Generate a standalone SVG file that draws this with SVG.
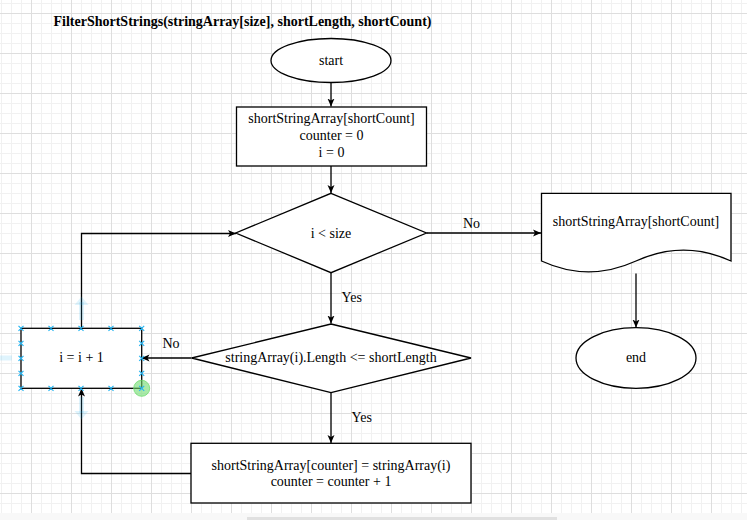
<svg xmlns="http://www.w3.org/2000/svg" width="747" height="520" viewBox="0 0 747 520">
<style>
.shape{fill:#ffffff;stroke:#000000;stroke-width:1.3}
.t{font-family:"Liberation Serif","Times New Roman",serif;font-size:14px;fill:#000000}
.c{text-anchor:middle}
.title{font-weight:bold}
.edge{fill:none;stroke:#000000;stroke-width:1.3}
.sel{stroke:#29b6f2;stroke-width:1.2;fill:none}
.hint{fill:#29b6f2;opacity:0.15}
</style>
<defs>
<pattern id="grid" patternUnits="userSpaceOnUse" x="31" y="13" width="40" height="40">
<path d="M10.5,0V40M20.5,0V40M30.5,0V40M0,10.5H40M0,20.5H40M0,30.5H40" stroke="#f1f1f1" stroke-width="1" fill="none"/>
<path d="M0.5,0V40M0,0.5H40" stroke="#dedede" stroke-width="1" fill="none"/>
</pattern>
<marker id="arr" viewBox="0 0 8 8" refX="8" refY="4" markerWidth="8" markerHeight="8" markerUnits="userSpaceOnUse" orient="auto">
<path d="M0,0.5 L8,4 L0,7.5 L2,4 Z" fill="#000000"/>
</marker>
</defs>
<rect x="0" y="0" width="747" height="520" fill="#ffffff"/>
<rect x="0" y="0" width="747" height="513" fill="url(#grid)"/>
<rect x="0" y="513" width="747" height="7" fill="#f8f8f8"/>
<rect x="247" y="517" width="310" height="3" fill="#e0e0e0"/>

<text class="t title" x="53.5" y="26">FilterShortStrings(stringArray[size], shortLength, shortCount)</text>

<g id="connectors">
<path class="edge" d="M331,82.5V106.5" marker-end="url(#arr)"/>
<path class="edge" d="M331,166V193" marker-end="url(#arr)"/>
<path class="edge" d="M426.5,233H541" marker-end="url(#arr)"/>
<path class="edge" d="M636,273.5V327.5" marker-end="url(#arr)"/>
<path class="edge" d="M331,273V323.5" marker-end="url(#arr)"/>
<path class="edge" d="M191.5,358H141.5" marker-end="url(#arr)"/>
<path class="edge" d="M331,393V443" marker-end="url(#arr)"/>
<path class="edge" d="M191,473.5H81.5V388.5" marker-end="url(#arr)"/>
<path class="edge" d="M81.5,328V233.5H236" marker-end="url(#arr)"/>
<text class="t" x="463" y="228">No</text>
<text class="t" x="341.5" y="302">Yes</text>
<text class="t" x="162.5" y="347.5">No</text>
<text class="t" x="351.5" y="422">Yes</text>
</g>

<g id="start">
<ellipse class="shape" cx="331" cy="60.5" rx="60" ry="22"/>
<text class="t c" x="331" y="65">start</text>
</g>

<g id="init">
<rect class="shape" x="236.5" y="107" width="190" height="59"/>
<text class="t c" x="331.5" y="123">shortStringArray[shortCount]</text>
<text class="t c" x="331.5" y="140">counter = 0</text>
<text class="t c" x="331.5" y="156.5">i = 0</text>
</g>

<g id="cond1">
<path class="shape" d="M331,193.3 L426.5,233 L331,272.7 L235.8,233 Z"/>
<text class="t c" x="331" y="237.5">i &lt; size</text>
</g>

<g id="output">
<path class="shape" d="M541.5,193.3 H731 V261 Q683.5,239.4 636,261 Q588.5,282.6 541.5,261 Z"/>
<text class="t c" x="636" y="225.5">shortStringArray[shortCount]</text>
</g>

<g id="end">
<ellipse class="shape" cx="636" cy="358" rx="60" ry="30.3"/>
<text class="t c" x="636" y="362">end</text>
</g>

<g id="cond2">
<path class="shape" d="M331,324 L471,358 L331,392.7 L191.7,358 Z"/>
<text class="t c" x="331" y="362">stringArray(i).Length &lt;= shortLength</text>
</g>

<g id="assign">
<rect class="shape" x="191" y="443.3" width="280" height="59.7"/>
<text class="t c" x="331" y="469.5">shortStringArray[counter] = stringArray(i)</text>
<text class="t c" x="331" y="486">counter = counter + 1</text>
</g>

<g id="increment">
<rect class="hint" x="79" y="302" width="5" height="18"/>
<path class="hint" d="M74.5,305 L81.5,296.5 L88.5,305 Z"/>
<rect class="hint" x="79" y="397" width="5" height="16"/>
<path class="hint" d="M74.5,411 L81.5,419.5 L88.5,411 Z"/>
<rect class="hint" x="0" y="355.5" width="12" height="5"/>
<rect class="shape" x="21" y="328.3" width="120.7" height="60"/>
<text class="t c" x="81.5" y="362">i = i + 1</text>
<g class="sel">
<path d="M18.5,325.8l5,5m0,-5l-5,5M48.5,325.8l5,5m0,-5l-5,5M78.5,325.8l5,5m0,-5l-5,5M108.5,325.8l5,5m0,-5l-5,5M139.2,325.8l5,5m0,-5l-5,5"/>
<path d="M18.5,385.8l5,5m0,-5l-5,5M48.5,385.8l5,5m0,-5l-5,5M78.5,385.8l5,5m0,-5l-5,5M108.5,385.8l5,5m0,-5l-5,5"/>
<path d="M18.5,340.8l5,5m0,-5l-5,5M18.5,355.8l5,5m0,-5l-5,5M18.5,370.8l5,5m0,-5l-5,5"/>
<path d="M139.2,340.8l5,5m0,-5l-5,5M139.2,355.8l5,5m0,-5l-5,5M139.2,370.8l5,5m0,-5l-5,5"/>
</g>
<circle cx="141.7" cy="388.3" r="8" fill="#6fdc6f" fill-opacity="0.6" stroke="#6fdc6f" stroke-opacity="0.8"/>
<path class="sel" d="M139.2,385.8l5,5m0,-5l-5,5"/>
</g>
</svg>
